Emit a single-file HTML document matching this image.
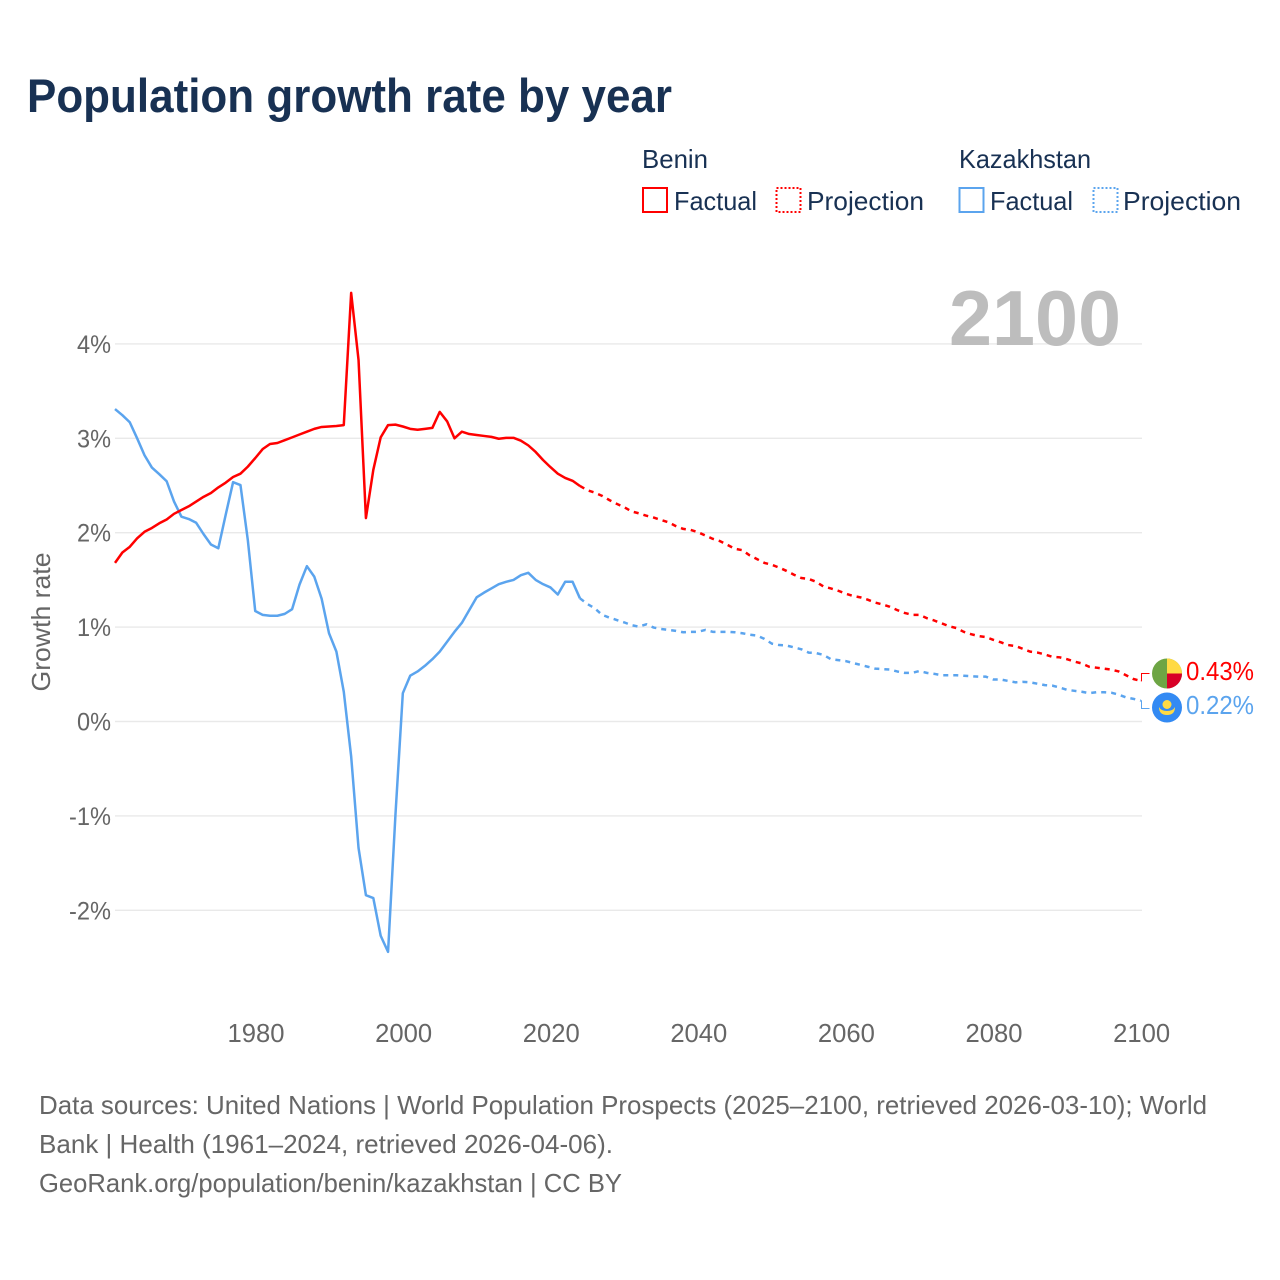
<!DOCTYPE html>
<html lang="en">
<head>
<meta charset="utf-8">
<title>Population growth rate by year</title>
<style>
html,body{margin:0;padding:0;background:#fff;}
svg{display:block;font-family:"Liberation Sans",sans-serif;}
</style>
</head>
<body>
<svg id="chart" xmlns="http://www.w3.org/2000/svg" width="1280" height="1280" viewBox="0 0 1280 1280">
  <rect x="0" y="0" width="1280" height="1280" fill="#ffffff"/>
  <text x="27" y="112" font-size="47" font-weight="700" fill="#183153" textLength="645" lengthAdjust="spacingAndGlyphs">Population growth rate by year</text>

  <g font-size="26" fill="#183153">
    <text x="642" y="168" textLength="66" lengthAdjust="spacingAndGlyphs">Benin</text>
    <text x="959" y="168" textLength="132" lengthAdjust="spacingAndGlyphs">Kazakhstan</text>
    <rect x="643" y="188" width="24" height="24" fill="none" stroke="#ff0000" stroke-width="2"/>
    <text x="674" y="210" textLength="83" lengthAdjust="spacingAndGlyphs">Factual</text>
    <rect x="776.5" y="188" width="24" height="24" fill="none" stroke="#ff0000" stroke-width="2" stroke-dasharray="2 2"/>
    <text x="807" y="210" textLength="117" lengthAdjust="spacingAndGlyphs">Projection</text>
    <rect x="959.5" y="188" width="24" height="24" fill="none" stroke="#5ba4ee" stroke-width="2"/>
    <text x="990" y="210" textLength="83" lengthAdjust="spacingAndGlyphs">Factual</text>
    <rect x="1093.5" y="188" width="24" height="24" fill="none" stroke="#5ba4ee" stroke-width="2" stroke-dasharray="2 2"/>
    <text x="1123" y="210" textLength="118" lengthAdjust="spacingAndGlyphs">Projection</text>
  </g>

  <g id="grid"></g>
  <text x="949" y="345" font-size="78" font-weight="700" fill="#bdbdbd" textLength="172" lengthAdjust="spacingAndGlyphs">2100</text>
  <g id="yticks" font-size="25" fill="#666666"></g>
  <g id="xticks" font-size="26" fill="#666666"></g>
  <text transform="translate(50,622) rotate(-90)" text-anchor="middle" font-size="26" fill="#666666" textLength="139" lengthAdjust="spacingAndGlyphs">Growth rate</text>
  <g id="series" fill="none" stroke-width="2.5" stroke-linejoin="round"></g>

  <g id="end-markers"></g>

  <g font-size="26" fill="#666666">
    <text x="39" y="1114" textLength="1168" lengthAdjust="spacingAndGlyphs">Data sources: United Nations | World Population Prospects (2025–2100, retrieved 2026-03-10); World</text>
    <text x="39" y="1153" textLength="574" lengthAdjust="spacingAndGlyphs">Bank | Health (1961–2024, retrieved 2026-04-06).</text>
    <text x="39" y="1192" textLength="583" lengthAdjust="spacingAndGlyphs">GeoRank.org/population/benin/kazakhstan | CC BY</text>
  </g>
</svg>
<script>
const firstFactualYear = 1961;
const firstProjectionYear = 2024;
const yTickValues = [4, 3, 2, 1, 0, -1, -2];
const xTickYears = [1980, 2000, 2020, 2040, 2060, 2080, 2100];
const beninFactual = [1.68,1.79,1.85,1.94,2.01,2.05,2.10,2.14,2.20,2.24,2.28,2.33,2.38,2.42,2.48,2.53,2.59,2.625,2.70,2.79,2.885,2.94,2.95,2.98,3.01,3.04,3.07,3.10,3.12,3.125,3.13,3.14,4.54,3.83,2.155,2.665,3.01,3.14,3.145,3.125,3.10,3.09,3.10,3.11,3.28,3.18,3.00,3.07,3.045,3.035,3.025,3.015,2.995,3.005,3.005,2.975,2.925,2.855,2.77,2.695,2.625,2.58,2.55,2.495];
const beninProjection = [2.495,2.45,2.425,2.39,2.345,2.305,2.27,2.225,2.205,2.18,2.16,2.135,2.11,2.07,2.04,2.03,2.005,1.97,1.935,1.91,1.87,1.83,1.815,1.76,1.72,1.68,1.66,1.63,1.595,1.555,1.52,1.51,1.48,1.43,1.41,1.385,1.355,1.33,1.315,1.29,1.26,1.24,1.215,1.18,1.15,1.13,1.13,1.095,1.07,1.04,1.01,0.99,0.95,0.925,0.905,0.895,0.865,0.84,0.81,0.80,0.77,0.74,0.73,0.71,0.685,0.68,0.66,0.635,0.615,0.58,0.57,0.56,0.55,0.53,0.49,0.45,0.43];
const kazakhstanFactual = [3.31,3.245,3.17,3.00,2.82,2.69,2.62,2.545,2.33,2.17,2.145,2.105,1.985,1.875,1.835,2.19,2.535,2.505,1.92,1.17,1.13,1.12,1.12,1.14,1.19,1.45,1.645,1.535,1.30,0.935,0.74,0.315,-0.37,-1.34,-1.84,-1.87,-2.27,-2.44,-0.99,0.30,0.485,0.53,0.59,0.66,0.74,0.845,0.95,1.045,1.18,1.315,1.365,1.41,1.455,1.48,1.50,1.55,1.575,1.50,1.455,1.42,1.345,1.48,1.48,1.305];
const kazakhstanProjection = [1.305,1.245,1.2,1.13,1.10,1.075,1.05,1.02,1.005,1.03,0.995,0.98,0.97,0.96,0.945,0.95,0.95,0.97,0.95,0.95,0.95,0.945,0.935,0.92,0.91,0.875,0.825,0.81,0.805,0.785,0.765,0.73,0.725,0.705,0.66,0.65,0.64,0.62,0.60,0.58,0.56,0.555,0.55,0.53,0.515,0.515,0.535,0.515,0.505,0.49,0.49,0.49,0.485,0.48,0.475,0.475,0.445,0.445,0.43,0.415,0.42,0.415,0.40,0.385,0.38,0.36,0.335,0.325,0.315,0.30,0.31,0.31,0.305,0.285,0.255,0.24,0.22];

const NS = 'http://www.w3.org/2000/svg';
const RED = '#ff0000';
const BLUE = '#5ba4ee';
function xScale(year) { return 115 + (year - 1961) * 7.38; }
function yScale(pct) { return 721.5 - pct * 94.4; }
function make(tag, attrs, parent) {
  const el = document.createElementNS(NS, tag);
  for (const k in attrs) el.setAttribute(k, attrs[k]);
  parent.appendChild(el);
  return el;
}
function linePath(values, startYear) {
  return values.map(function (v, i) {
    return (i ? 'L' : 'M') + xScale(startYear + i).toFixed(2) + ' ' + yScale(v).toFixed(2);
  }).join('');
}

const gridG = document.getElementById('grid');
const yG = document.getElementById('yticks');
yTickValues.forEach(function (v) {
  const gl = make('line', { x1: 115, x2: 1142, y1: yScale(v), y2: yScale(v), stroke: '#e9e9e9', 'stroke-width': 1.4 }, gridG);
  
  
  const label = v + '%';
  const t = make('text', { x: 111, y: yScale(v) + 9, 'text-anchor': 'end', textLength: label.length > 2 ? 42 : 34, lengthAdjust: 'spacingAndGlyphs' }, yG);
  
  
  t.textContent = label;
});

const xG = document.getElementById('xticks');
xTickYears.forEach(function (yr) {
  const t = make('text', { x: xScale(yr) + 0.8, y: 1042, 'text-anchor': 'middle', textLength: 57, lengthAdjust: 'spacingAndGlyphs' }, xG);
  
  
  t.textContent = String(yr);
});

const sG = document.getElementById('series');
const kazF = make('path', { d: linePath(kazakhstanFactual, firstFactualYear), stroke: BLUE }, sG);


const kazP = make('path', { d: linePath(kazakhstanProjection, firstProjectionYear), stroke: BLUE, 'stroke-dasharray': '5 5' }, sG);


const benF = make('path', { d: linePath(beninFactual, firstFactualYear), stroke: RED }, sG);


const benP = make('path', { d: linePath(beninProjection, firstProjectionYear), stroke: RED, 'stroke-dasharray': '5 5' }, sG);



/* end-of-line connectors, flags and value labels */
const mG = document.getElementById('end-markers');
const lastBen = beninProjection[beninProjection.length - 1];
const lastKaz = kazakhstanProjection[kazakhstanProjection.length - 1];
const endX = xScale(2100);
const benY = yScale(lastBen);
const kazY = yScale(lastKaz);
const c1 = make('path', { d: 'M' + endX + ' ' + benY + 'L1141.5 ' + benY + 'L1141.5 673.5L1149.5 673.5', fill: 'none', stroke: RED, 'stroke-width': 1 }, mG);


const c2 = make('path', { d: 'M' + endX + ' ' + kazY + 'L1141.5 ' + kazY + 'L1141.5 708.5L1149.5 708.5', fill: 'none', stroke: BLUE, 'stroke-width': 1 }, mG);



const fb = make('g', {}, mG);


make('circle', { cx: 1167, cy: 673.5, r: 15, fill: '#6da544' }, fb);
make('path', { d: 'M1167 658.5A15 15 0 0 1 1182 673.5L1167 673.5Z', fill: '#ffda44' }, fb);
make('path', { d: 'M1167 673.5L1182 673.5A15 15 0 0 1 1167 688.5Z', fill: '#d80027' }, fb);

const fk = make('g', {}, mG);


make('circle', { cx: 1167, cy: 707.5, r: 15, fill: '#338af3' }, fk);
make('circle', { cx: 1167, cy: 704.5, r: 4.5, fill: '#ffda44' }, fk);
make('path', { d: 'M1159 707Q1161 711 1167 711Q1173 711 1175 707Q1175 715 1167 715Q1159 715 1159 707Z', fill: '#ffda44' }, fk);

const lb = make('text', { x: 1186, y: 680, 'font-size': 26, fill: RED, textLength: 68, lengthAdjust: 'spacingAndGlyphs' }, mG);


lb.textContent = lastBen.toFixed(2) + '%';
const lk = make('text', { x: 1186, y: 714, 'font-size': 26, fill: BLUE, textLength: 68, lengthAdjust: 'spacingAndGlyphs' }, mG);


lk.textContent = lastKaz.toFixed(2) + '%';
</script>
</body>
</html>
